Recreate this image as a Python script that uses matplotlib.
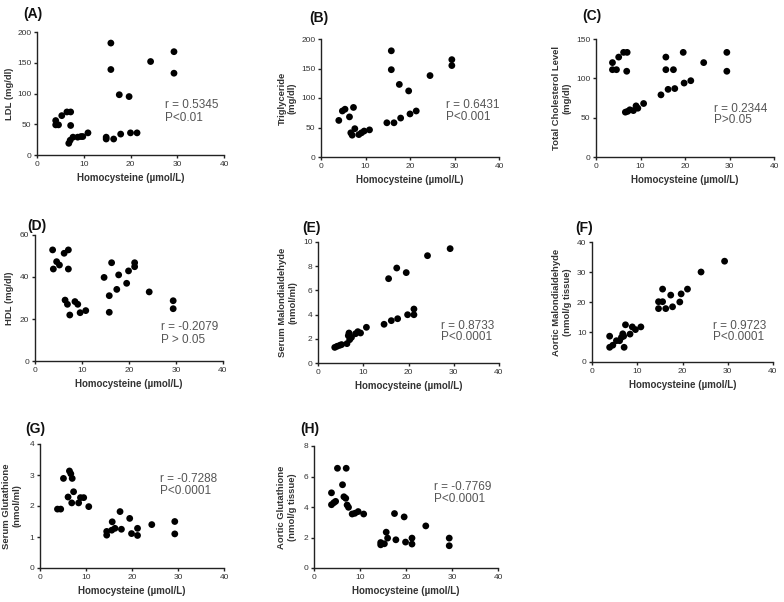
import matplotlib
matplotlib.use("Agg")
import matplotlib.pyplot as plt

plt.rcParams['font.family'] = ['Liberation Sans', 'DejaVu Sans']

W, H = 784, 602

# ---- data ----
a_x = [4.0, 4.0, 4.6, 5.3, 6.4, 7.2, 7.2, 6.8, 7.1, 7.7, 8.7, 9.4, 9.8, 10.9,
       14.8, 14.8, 15.8, 15.8, 16.4, 17.6, 17.9, 19.7, 20.0, 21.4, 24.3, 29.3, 29.3]
a_y = [56, 49, 49, 64, 70, 70, 48, 19, 24, 29, 29, 30, 30, 36,
       29, 26, 182, 139, 26, 98, 34, 95, 36, 36, 152, 168, 133]

b_x = [4.0, 4.8, 5.4, 6.4, 7.3, 6.7, 7.0, 7.6, 8.5, 9.1, 9.7, 10.9,
       14.8, 15.8, 15.8, 16.4, 17.6, 17.9, 19.7, 20.0, 21.4, 24.5, 29.4, 29.4]
b_y = [62, 78, 81, 68, 84, 41, 37, 48, 38, 41, 44, 46,
       58, 180, 148, 58, 123, 66, 112, 73, 78, 138, 165, 155]

c_x = [3.7, 3.7, 4.6, 5.1, 6.2, 7.0, 6.9, 6.6, 7.1, 7.6, 8.4, 9.0, 9.4, 10.7,
       14.6, 15.7, 15.7, 16.2, 17.4, 17.7, 19.6, 19.8, 21.3, 24.2, 29.4, 29.4]
c_y = [120, 111, 111, 127, 133, 133, 109, 57, 58, 60, 59, 65, 62, 68,
       79, 127, 111, 86, 111, 87, 133, 94, 97, 120, 133, 109]

d_x = [3.75, 3.9, 4.6, 5.2, 6.2, 7.1, 7.1, 6.4, 6.9, 7.4, 8.5, 9.1, 9.6, 10.8,
       14.7, 15.8, 15.8, 16.3, 17.4, 17.8, 19.5, 19.9, 21.2, 21.2, 24.3, 29.4, 29.4]
d_y = [52.9, 43.8, 47.3, 45.7, 51.3, 52.9, 43.8, 29.0, 27.0, 21.9, 28.3, 27.0, 23.0, 24.0,
       39.8, 31.1, 23.2, 46.8, 34.1, 41.0, 37.0, 42.9, 46.8, 44.9, 32.9, 28.7, 24.9]

e_x = [3.7, 4.2, 4.8, 5.2, 6.4, 6.7, 6.85, 7.0, 7.4, 8.3, 8.8, 9.4, 10.7,
       14.6, 15.6, 16.2, 17.4, 17.6, 19.5, 19.8, 21.2, 21.2, 24.2, 29.2]
e_y = [1.29, 1.38, 1.46, 1.52, 1.6, 2.26, 2.48, 1.93, 2.12, 2.42, 2.59, 2.48, 2.95,
       3.2, 6.97, 3.5, 7.85, 3.66, 7.47, 3.99, 4.46, 3.99, 8.87, 9.45]

f_x = [3.9, 3.9, 4.6, 5.4, 6.1, 6.5, 6.8, 7.0, 7.1, 7.4, 8.4, 8.9, 9.6, 10.8,
       14.7, 14.7, 15.6, 15.6, 16.3, 17.4, 17.8, 19.4, 19.7, 21.1, 24.1, 29.3]
f_y = [8.6, 4.9, 5.6, 7.1, 7.1, 8.2, 9.4, 8.6, 4.9, 12.4, 9.3, 11.7, 10.8, 11.7,
       17.8, 20.1, 20.1, 24.3, 17.8, 22.3, 18.4, 20.0, 22.7, 24.3, 30.0, 33.6]

g_x = [3.8, 4.5, 5.1, 6.1, 6.4, 6.7, 7.0, 6.9, 7.3, 8.4, 8.8, 9.5, 10.6,
       14.5, 14.5, 15.7, 15.6, 16.3, 17.4, 17.7, 19.5, 19.9, 21.2, 21.2, 24.3, 29.3, 29.3]
g_y = [1.9, 1.9, 2.89, 2.29, 3.13, 3.04, 2.89, 2.1, 2.46, 2.1, 2.27, 2.27, 1.98,
       1.18, 1.06, 1.49, 1.22, 1.28, 1.82, 1.25, 1.6, 1.11, 1.28, 1.05, 1.4, 1.5, 1.1]

h_x = [3.8, 3.8, 4.3, 4.7, 5.1, 6.2, 6.5, 6.9, 7.0, 7.2, 7.5, 8.3, 8.9, 9.6, 10.8,
       14.5, 14.5, 15.3, 15.7, 16.0, 17.5, 17.8, 19.6, 19.9, 21.3, 21.3, 24.3, 29.4, 29.4]
h_y = [4.93, 4.15, 4.28, 4.37, 6.54, 5.46, 4.67, 4.57, 6.54, 4.13, 3.98, 3.54, 3.59, 3.7, 3.54,
       1.67, 1.52, 1.59, 2.35, 1.96, 3.57, 1.85, 3.35, 1.7, 1.96, 1.57, 2.76, 1.96, 1.46]

x_label = "Homocysteine (µmol/L)"

# letter, x, y, ylabel, ymax, yticks, r text, p text, text pos, axes px box (l, r, top, bottom), letter px, ylabel offset px
panels = [
    ("(A)", a_x, a_y, "LDL (mg/dl)", 200, [0, 50, 100, 150, 200], "r = 0.5345", "P<0.01", (27.3, 81, 60), (37, 224, 32, 155), (23, 14), 27),
    ("(B)", b_x, b_y, "Triglyceride\n(mg/dl)", 200, [0, 50, 100, 150, 200], "r = 0.6431", "P<0.001", (28.0, 88, 68), (321, 499, 39, 157), (309, 18), 34),
    ("(C)", c_x, c_y, "Total Cholesterol Level\n(mg/dl)", 150, [0, 50, 100, 150], "r = 0.2344", "P>0.05", (26.6, 61.6, 46.7), (596, 774, 39, 157), (582, 16), 34),
    ("(D)", d_x, d_y, "HDL (mg/dl)", 60, [0, 20, 40, 60], "r = -0.2079", "P > 0.05", (26.9, 16.3, 10), (35, 223, 235, 361), (27, 226), 25),
    ("(E)", e_x, e_y, "Serum Malondialdehyde\n(nmol/ml)", 10, [0, 2, 4, 6, 8, 10], "r = 0.8733", "P<0.0001", (27.1, 3.09, 2.12), (318, 499, 242, 363), (302, 228), 30),
    ("(F)", f_x, f_y, "Aortic Malondialdehyde\n(nmol/g tissue)", 40, [0, 10, 20, 30, 40], "r = 0.9723", "P<0.0001", (26.8, 12.1, 8.2), (592, 773, 242, 362), (575, 228), 30),
    ("(G)", g_x, g_y, "Serum Glutathione\n(nmol/ml)", 4, [0, 1, 2, 3, 4], "r = -0.7288", "P<0.0001", (26.0, 2.87, 2.47), (40, 224, 444, 568), (25, 429), 28),
    ("(H)", h_x, h_y, "Aortic Glutathione\n(nmol/g tissue)", 8, [0, 2, 4, 6, 8], "r = -0.7769", "P<0.0001", (26.1, 5.33, 4.52), (314, 498, 446, 568), (300, 429), 27),
]

fig = plt.figure(figsize=(W / 100, H / 100), dpi=100)
fig.patch.set_facecolor('white')

for letter, xs, ys, ylab, ymax, yt, rtxt, ptxt, tpos, box, lpos, ypad in panels:
    l, r, t, b = box
    ax = fig.add_axes([l / W, 1 - b / H, (r - l) / W, (b - t) / H])
    ax.scatter(xs, ys, s=24, color='black', edgecolors='none', clip_on=False, zorder=3)
    ax.set_xlim(0, 40)
    ax.set_ylim(0, ymax)
    ax.set_xticks([0, 10, 20, 30, 40])
    ax.set_yticks(yt)
    for side in ('top', 'right'):
        ax.spines[side].set_visible(False)
    for side in ('left', 'bottom'):
        ax.spines[side].set_linewidth(1.0)
        ax.spines[side].set_color('#222222')
    ax.tick_params(direction='out', length=2.5, width=1.0, color='#222222',
                   labelsize=6, labelcolor='#333333', pad=1.5)

    ax.set_xlabel(x_label, fontsize=7, fontweight='bold', color='#333333', va='center')
    ax.xaxis.set_label_coords(0.5, -23 / (b - t))
    ax.set_ylabel(ylab, fontsize=6.8, fontweight='bold', color='#333333', va='center',
                  linespacing=1.15)
    ax.yaxis.set_label_coords(-ypad / (r - l), 0.5)

    tx, ry, py = tpos
    ax.text(tx, ry, rtxt, fontsize=8.5, color='#555555', ha='left', va='center')
    ax.text(tx, py, ptxt, fontsize=8.5, color='#555555', ha='left', va='center')

    fig.text(lpos[0] / W, 1 - lpos[1] / H, letter, fontsize=10, fontweight='bold',
             color='#111111', ha='left', va='center')

fig.savefig("out.png", dpi=100)
